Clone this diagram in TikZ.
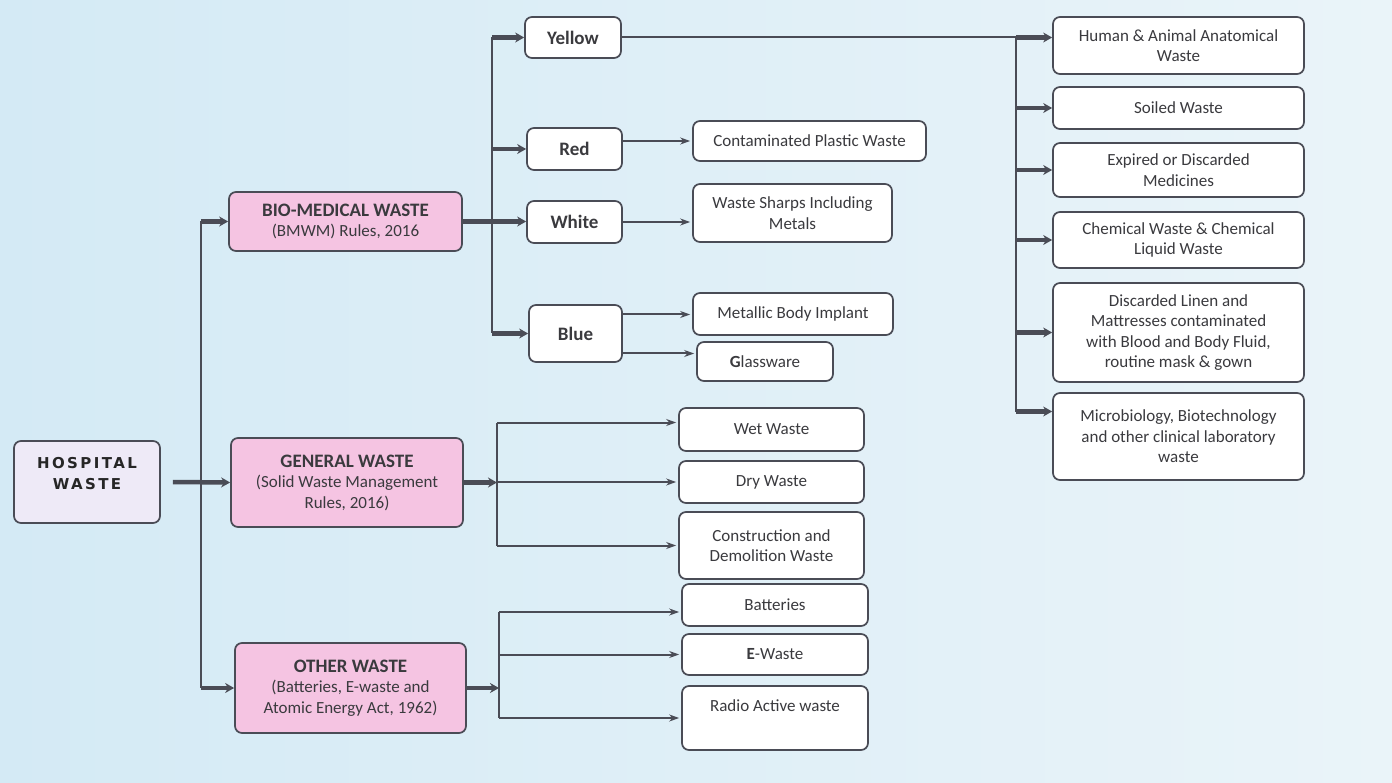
\documentclass[tikz,border=0pt]{standalone}
\usepackage{fontspec}
\setmainfont{Carlito}
\newfontfamily\hospfont[LetterSpace=16]{DejaVu Sans}
\definecolor{edge}{HTML}{4A4C56}
\definecolor{ink}{HTML}{3A3A3E}
\definecolor{pinkD}{HTML}{F5C4E2}
\definecolor{pinkL}{HTML}{FBE9F3}
\definecolor{lav}{HTML}{EEEAF7}
\definecolor{bgL}{HTML}{D4EAF5}
\definecolor{bgR}{HTML}{EAF4F9}
\usetikzlibrary{positioning,arrows,arrows.meta}
\tikzset{
	>={Stealth[length=10pt,width=7pt]},
	wbox/.style={
		rectangle,
		rounded corners=7pt,
		fill=white,
		draw=edge, line width=1.7pt,
		text=ink,
		align=center,
		inner sep=2pt,
		font=\fontsize{17}{20.5}\selectfont},
	cbox/.style={wbox, font=\bfseries\fontsize{19}{21}\selectfont},
	pbox/.style={wbox, left color=pinkD, middle color=pinkL, right color=pinkD},
	hbox/.style={wbox, fill=lav, text=black!85, font=\hospfont\bfseries\fontsize{15}{21}\selectfont},
	sz/.style 2 args={minimum width=#1pt, minimum height=#2pt},
	line/.style={draw=edge, line width=2pt},
	feed/.style={line, ->, shorten >=2pt},
	stub/.style={draw=edge, line width=4.5pt, -{Stealth[length=9pt,width=10pt]}},
}

\begin{document}
\begin{tikzpicture}[x=1pt,y=-1pt]
\useasboundingbox (0,0) rectangle (1392,783);
\fill[left color=bgL, right color=bgR] (0,0) rectangle (1392,783);

% main groups
\node[hbox, sz={146}{82}, text depth=18pt] (hosp) at (87,482) {HOSPITAL\\WASTE};
\node[pbox, sz={233}{59}] (bio) at (345.5,221.5) {{\bfseries\fontsize{19}{21}\selectfont BIO-MEDICAL WASTE}\\(BMWM) Rules, 2016};
\node[pbox, sz={232}{89}] (gen) at (347,482.5) {{\bfseries\fontsize{19}{21}\selectfont GENERAL WASTE}\\(Solid Waste Management\\Rules, 2016)};
\node[pbox, sz={231}{90}] (oth) at (350.5,688) {{\bfseries\fontsize{19}{21}\selectfont OTHER WASTE}\\(Batteries, E-waste and\\Atomic Energy Act, 1962)};

% colour bags
\node[cbox, sz={96}{41}] (yel) at (573,37.5) {Yellow};
\node[cbox, sz={95}{42}] (red) at (574.5,149) {Red};
\node[cbox, sz={95}{42}] (whi) at (574.5,222) {White};
\node[cbox, sz={93}{57}] (blu) at (575.5,333.5) {Blue};

\node[wbox, sz={233}{40}] (plast) at (809.5,141) {Contaminated Plastic Waste};
\node[wbox, sz={199}{58}] (sharp) at (792.5,213) {Waste Sharps Including\\Metals};
\node[wbox, sz={200}{42}] (metal) at (793,314) {Metallic Body Implant};
\node[wbox, sz={136}{39}] (glass) at (765,361.5) {\textbf{G}lassware};

% yellow bag items
\node[wbox, sz={251}{57}] (human) at (1178.5,45.5) {Human \& Animal Anatomical\\Waste};
\node[wbox, sz={251}{42}] (soiled) at (1178.5,108) {Soiled Waste};
\node[wbox, sz={251}{54}] (expired) at (1178.5,170) {Expired or Discarded\\Medicines};
\node[wbox, sz={251}{56}] (chem) at (1178.5,240) {Chemical Waste \& Chemical\\Liquid Waste};
\node[wbox, sz={251}{99}] (disc) at (1178.5,332.5) {Discarded Linen and\\Mattresses contaminated\\with Blood and Body Fluid,\\routine mask \& gown};
\node[wbox, sz={251}{87}] (micro) at (1178.5,436.5) {Microbiology, Biotechnology\\and other clinical laboratory\\waste};

% general and other items
\node[wbox, sz={185}{43}] (wet) at (771.5,429.5) {Wet Waste};
\node[wbox, sz={185}{42}] (dry) at (771.5,482) {Dry Waste};
\node[wbox, sz={185}{67}] (cons) at (771.5,545.5) {Construction and\\Demolition Waste};
\node[wbox, sz={186}{42}] (bat) at (775,605) {Batteries};
\node[wbox, sz={186}{41}] (ew) at (775,654.5) {\textbf{E}-Waste};
\node[wbox, sz={186}{64}, text depth=24pt] (rad) at (775,718) {Radio Active waste};

% hospital to groups
\coordinate (hub) at (201,482);
\draw[line] (hub |- bio.west) -- (hub |- oth.west);
\draw[stub] (hub |- bio.west) -- (bio.west);
\draw[stub] ([xshift=12pt]hosp.east) -- (gen.west);
\draw[stub] (hub |- oth.west) -- (oth.west);

% bio-medical to bags
\coordinate (bhub) at (492,0);
\draw[line] (bhub |- yel.west) -- (bhub |- blu.west);
\draw[stub] (bio.east) -- (bio.east -| whi.west);
\foreach \c in {yel,red,blu}
	\draw[stub] (bhub |- \c.west) -- (\c.west);
\draw[feed] (red.east |- plast.west) -- (plast.west);
\draw[feed] (whi.east) -- (whi.east -| sharp.west);
\draw[feed] ([yshift=19pt]blu.east) -- ([yshift=19pt]blu.east -| metal.west);
\draw[feed] ([yshift=-20pt]blu.east) -- ([yshift=-20pt]blu.east -| glass.west);

% yellow bag
\coordinate (rhub) at (1016,0);
\coordinate (micin) at ([yshift=25pt]micro.west);
\draw[line] (yel.east) -- (rhub |- yel.east) -- (rhub |- micin);
\draw[stub] (rhub |- yel.east) -- (yel.east -| human.west);
\foreach \c in {soiled,expired,chem,disc}
	\draw[stub] (rhub |- \c.west) -- (\c.west);
\draw[stub] (rhub |- micin) -- (micin);

% general waste
\coordinate (ghub) at (497,0);
\coordinate (wetin) at ([yshift=7pt]wet.west);
\draw[stub] (gen.east) -- (gen.east -| ghub);
\draw[line] (ghub |- wetin) -- (ghub |- cons.west);
\draw[feed] (ghub |- wetin) -- (wetin);
\draw[feed] (ghub |- dry.west) -- (dry.west);
\draw[feed] (ghub |- cons.west) -- (cons.west);

% other waste
\coordinate (ohub) at (499,0);
\coordinate (batin) at ([yshift=-7pt]bat.west);
\draw[stub] (oth.east) -- (oth.east -| ohub);
\draw[line] (ohub |- batin) -- (ohub |- rad.west);
\draw[feed] (ohub |- batin) -- (batin);
\draw[feed] (ohub |- ew.west) -- (ew.west);
\draw[feed] (ohub |- rad.west) -- (rad.west);
\end{tikzpicture}
\end{document}
